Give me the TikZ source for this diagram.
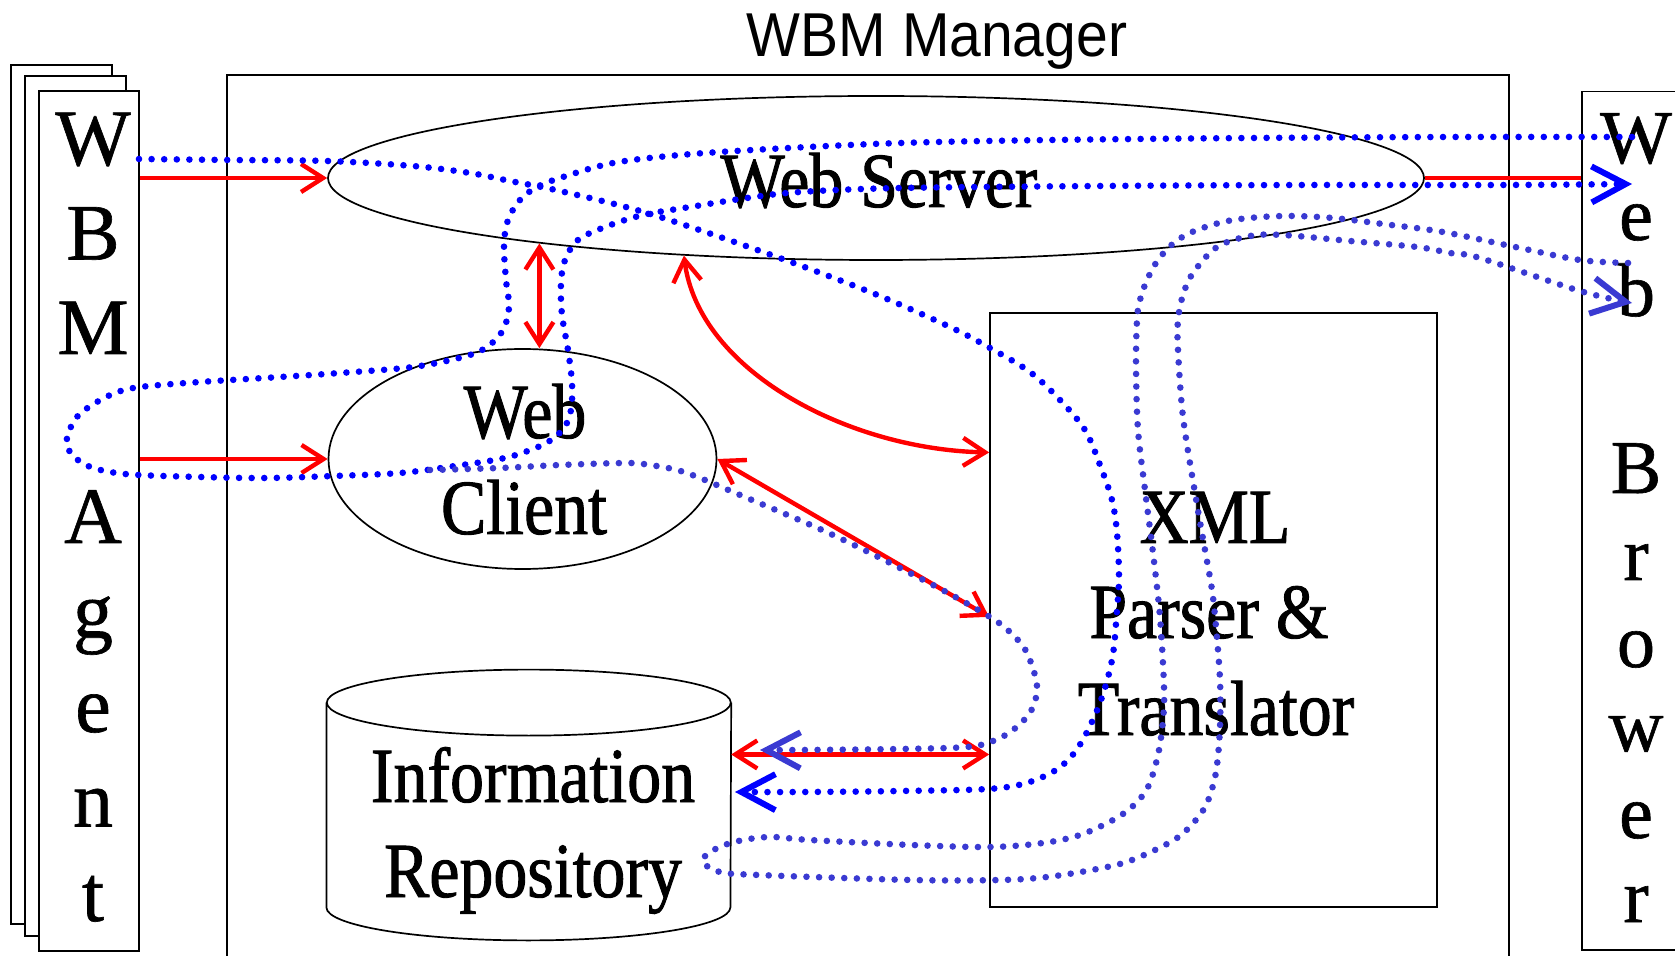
\documentclass[tikz,border=0pt]{standalone}
\usepackage{fontspec}
\setmainfont{Liberation Serif}[RawFeature={embolden=0.8}]
\newfontfamily\condserif[FakeStretch=0.87, RawFeature={embolden=1.2}]{Liberation Serif}
\newfontfamily\titlesans[FakeStretch=0.92]{Liberation Sans}
\usetikzlibrary{arrows.meta,shapes.geometric,calc}
\definecolor{pureblue}{RGB}{0,0,255}
\definecolor{flowpurple}{RGB}{58,58,210}
\definecolor{flowred}{RGB}{255,0,0}

\begin{document}
\begin{tikzpicture}[x=0.5pt,y=-0.5pt,
  outline/.style={draw=black, line width=0.85pt},
  page/.style={outline, fill=white, inner sep=0pt},
  boxnode/.style={outline, inner sep=0pt},
  redline/.style={draw=flowred, line width=2.2pt},
  redtip/.style={-{Straight Barb[length=11pt,width=14pt]}},
  redboth/.style={{Straight Barb[length=11pt,width=14pt]}-{Straight Barb[length=11pt,width=14pt]}},
  dotline/.style={line width=3.3pt, line cap=round, dash pattern=on 0pt off 6.3pt},
  bluepath/.style={dotline, draw=pureblue},
  purplepath/.style={dotline, draw=flowpurple},
  flowtip/.style={-{Straight Barb[length=17pt,width=18pt,line width=3pt]}},
  txt/.style={anchor=base, inner sep=0pt, font=\condserif\fontsize{39}{39}\selectfont},
  vlet/.style={anchor=base, inner sep=0pt, font=\fontsize{40}{40}\selectfont},
  blet/.style={anchor=base, inner sep=0pt, font=\fontsize{38}{38}\selectfont}]

\useasboundingbox (0,0) rectangle (1675,956);
\clip (0,0) rectangle (1675,956);

% stacked agent pages
\node[page, minimum width=50.5pt, minimum height=429.5pt] (agentback) at (61.2,494.5) {};
\node[page, minimum width=50.5pt, minimum height=430pt] (agentmid) at (75.5,505.7) {};
\node[page, minimum width=50pt, minimum height=429.7pt] (agent) at (89,521) {};
\foreach \k/\ch in {0/W,1/B,2/M,4/A,5/g,6/e,7/n,8/t}
  \node[vlet] (ag\k) at (93,{165+94.5*\k}) {\ch};

% manager frame and title
\node[boxnode, minimum width=641.15pt, minimum height=462.35pt] (mgr) at (867.85,537.65) {};
\node[anchor=base, inner sep=0pt, font=\titlesans\fontsize{31}{31}\selectfont] (title) at (937,57) {WBM Manager};

% components
\node[boxnode, ellipse, minimum width=548pt, minimum height=82pt] (ws) at (876,178) {};
\node[boxnode, ellipse, minimum width=194pt, minimum height=110pt] (wc) at (522.5,459) {};
\node[boxnode, minimum width=223.35pt, minimum height=297pt] (xml) at (1213.35,610.3) {};
\node[inner sep=0pt, minimum width=202pt, minimum height=102pt] (repo) at (528.8,805) {};
\draw[outline] (repo.north west) -- (repo.south west)
  arc[start angle=180, end angle=0, x radius=202, y radius=33] -- (repo.north east);
\draw[outline] (repo.north) ellipse[x radius=202, y radius=33];

% browser column
\node[boxnode, minimum width=69.15pt, minimum height=429.15pt] (br) at (1650.85,520.55) {};
\foreach \y/\ch [count=\i] in {163/W,240/e,316/b,493/B,580/r,667/o,751/w,838/e,922/r}
  \node[blet] (bl\i) at (1636,\y) {\ch};

% labels
\node[txt] (wsT) at (879,207) {Web Server};
\node[txt] (wcT1) at (525,438) {Web};
\node[txt] (wcT2) at (524,534) {Client};
\node[txt] (repT1) at (533,802) {Information};
\node[txt] (repT2) at (533,897) {Repository};
\node[txt] (xmlT1) at (1215,543) {XML};
\node[txt] (xmlT2) at (1209,638) {Parser \&};
\node[txt] (xmlT3) at (1216,735) {Translator};

% ports on the parser
\coordinate (xA) at ($(xml.north west)!0.235!(xml.south west)$);
\coordinate (xB) at ($(xml.north west)!0.511!(xml.south west)$);
\coordinate (xC) at ($(xml.north west)!0.742!(xml.south west)$);

% message links
\draw[redline, redtip] (agent.east |- ws.west) -- (ws.west);
\draw[redline, redtip] (agent.east |- wc.west) -- (wc.west);
\draw[redline, redboth] (ws.191) -- (ws.191 |- wc.north);
\draw[redline, redboth] (ws.202) .. controls +(15,116) and +(-140,-3) .. (xA);
\draw[redline, redboth] (wc.east) -- (xB);
\draw[redline, redboth] (repo.east |- xC) -- (xC);
\draw[redline] (ws.east) -- (br.west |- ws.east);

% agent -> server -> parser -> repository
\draw[bluepath, flowtip] plot[smooth, tension=0.55] coordinates {
  (139,159) (230,160) (327,161) (413,166) (470,173) (510,181) (560,191)
  (647,213) (763,252) (870,292) (950,327) (990,348) (1030,372) (1060,400)
  (1085,430) (1100,465) (1112,500) (1117,533) (1119,577) (1117,610)
  (1112,660) (1098,708) (1075,752) (1047,775) (1000,788) (900,791)
  (800,792) (735,792)};

% browser -> server -> client -> agent -> client -> server -> browser
\draw[bluepath, flowtip] plot[smooth, tension=0.55] coordinates {
  (1632,137) (1450,137) (1250,138) (1050,140) (900,143) (770,149) (680,155)
  (613,163) (563,177) (537,187) (520,200) (508,220) (504,245) (506,280)
  (509,307) (503,330) (487,347) (463,357) (413,367) (340,373) (280,377)
  (200,382) (140,387) (115,393) (92,405) (76,418) (67,438) (70,452)
  (88,466) (125,474) (200,477) (267,478) (333,476) (400,473) (455,466)
  (500,459) (525,452) (548,442) (564,428) (571,410) (572,383) (568,350)
  (562,315) (561,283) (565,260) (578,240) (605,227) (643,215) (690,207)
  (747,198) (800,192) (900,188) (1100,186) (1300,185) (1500,185) (1632,184)};

% client -> parser -> repository
\draw[purplepath, flowtip] plot[smooth, tension=0.55] coordinates {
  (430,470) (500,468) (560,465) (627,463) (650,465) (677,470) (700,478)
  (733,492) (833,535) (933,585) (990,617) (1012,634) (1027,653) (1037,686)
  (1031,711) (1013,730) (993,741) (967,747) (900,749) (800,750) (760,750)};

% browser -> parser -> repository -> parser -> browser
\draw[purplepath, flowtip] plot[smooth, tension=0.55] coordinates {
  (1628,263) (1580,260) (1520,248) (1443,232) (1383,224) (1333,218)
  (1283,216) (1233,220) (1197,230) (1175,242) (1158,260) (1147,280)
  (1140,300) (1137,320) (1136,367) (1138,430) (1145,490) (1153,553)
  (1160,617) (1164,687) (1163,720) (1158,755) (1148,787) (1133,806)
  (1113,820) (1080,835) (1043,843) (990,847) (912,845) (810,840)
  (769,837) (734,842) (710,852) (703,862) (720,872) (759,875) (912,880)
  (1000,880) (1047,877) (1097,869) (1132,860) (1177,838) (1202,812)
  (1212,789) (1217,765) (1220,727) (1220,680) (1216,627) (1212,590)
  (1205,550) (1195,493) (1183,417) (1178,350) (1178,320) (1183,295)
  (1193,273) (1217,247) (1250,236) (1283,235) (1350,241) (1417,247)
  (1450,253) (1480,258) (1580,291) (1632,303)};
\end{tikzpicture}
\end{document}
